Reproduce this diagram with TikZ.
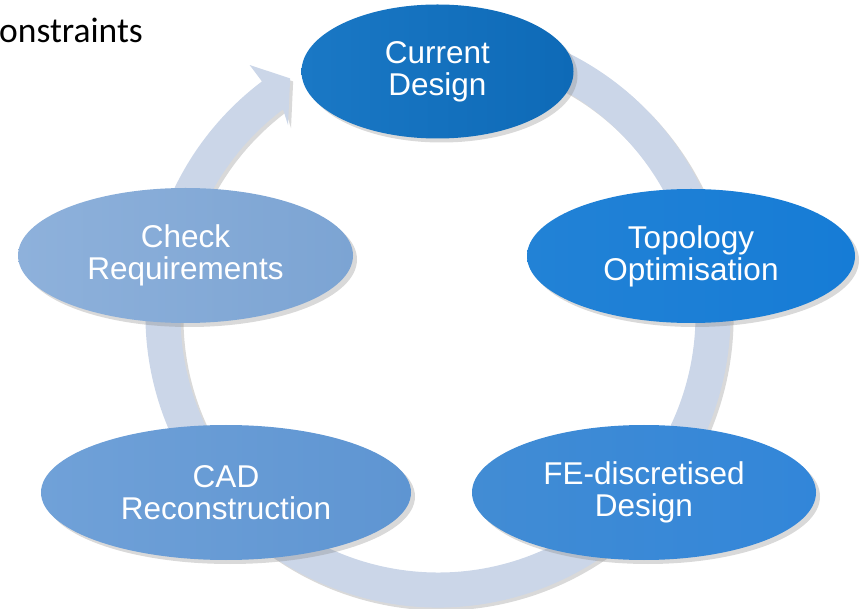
\documentclass[tikz,border=0pt]{standalone}
\usepackage{fontspec}
\setmainfont{Liberation Sans}
\newfontfamily\calibri{Carlito}
\usetikzlibrary{shapes.geometric,shadows}

\definecolor{ringblue}{RGB}{203,214,232}
\definecolor{curL}{RGB}{26,120,197}
\definecolor{curR}{RGB}{14,106,183}
\definecolor{topoL}{RGB}{34,130,214}
\definecolor{topoR}{RGB}{22,124,214}
\definecolor{feL}{RGB}{66,140,212}
\definecolor{feR}{RGB}{50,134,217}
\definecolor{cadL}{RGB}{112,161,216}
\definecolor{cadR}{RGB}{94,149,210}
\definecolor{checkL}{RGB}{142,177,219}
\definecolor{checkR}{RGB}{124,164,211}

\begin{document}
\begin{tikzpicture}[x=1pt,y=1pt,
    stage/.style={ellipse,inner sep=0pt,text=white,align=center,
      font=\fontsize{31.5}{32}\selectfont,
      drop shadow={shadow xshift=4pt,shadow yshift=-4pt,opacity=0.3}},
    ring/.style={fill=ringblue,
      drop shadow={shadow xshift=3pt,shadow yshift=-3pt,opacity=0.3}}]
  \useasboundingbox (0,0) rectangle (860,-609);

  \node[anchor=base west,inner sep=0pt,font=\calibri\fontsize{35.5}{40}\selectfont] (cons) at (-1,-43) {onstraints};

  \coordinate (ringc) at (438,-315);
  \fill[ring,shift={(ringc)}] (75:292.5) arc[start angle=75,end angle=-233,radius=292.5]
    -- (-233:313) -- (-238:279) -- (-231.7:242) -- (-233:257.5)
    arc[start angle=-233,end angle=75,radius=257.5] -- cycle;

  \node[stage,minimum width=272,minimum height=134,left color=curL,right color=curR] (cur) at (437.5,-71.5) {Current\\Design};
  \node[stage,minimum width=328,minimum height=134,left color=topoL,right color=topoR] (topo) at (691,-256) {Topology\\Optimisation};
  \node[stage,minimum width=344,minimum height=135,left color=feL,right color=feR] (fe) at (644,-492.5) {FE-discretised\\Design};
  \node[stage,minimum width=370,minimum height=135,left color=cadL,right color=cadR] (cad) at (226,-492.5) {CAD\\Reconstruction};
  \node[stage,minimum width=335,minimum height=135,left color=checkL,right color=checkR] (check) at (185.5,-255.5) {Check\\Requirements};
\end{tikzpicture}
\end{document}
